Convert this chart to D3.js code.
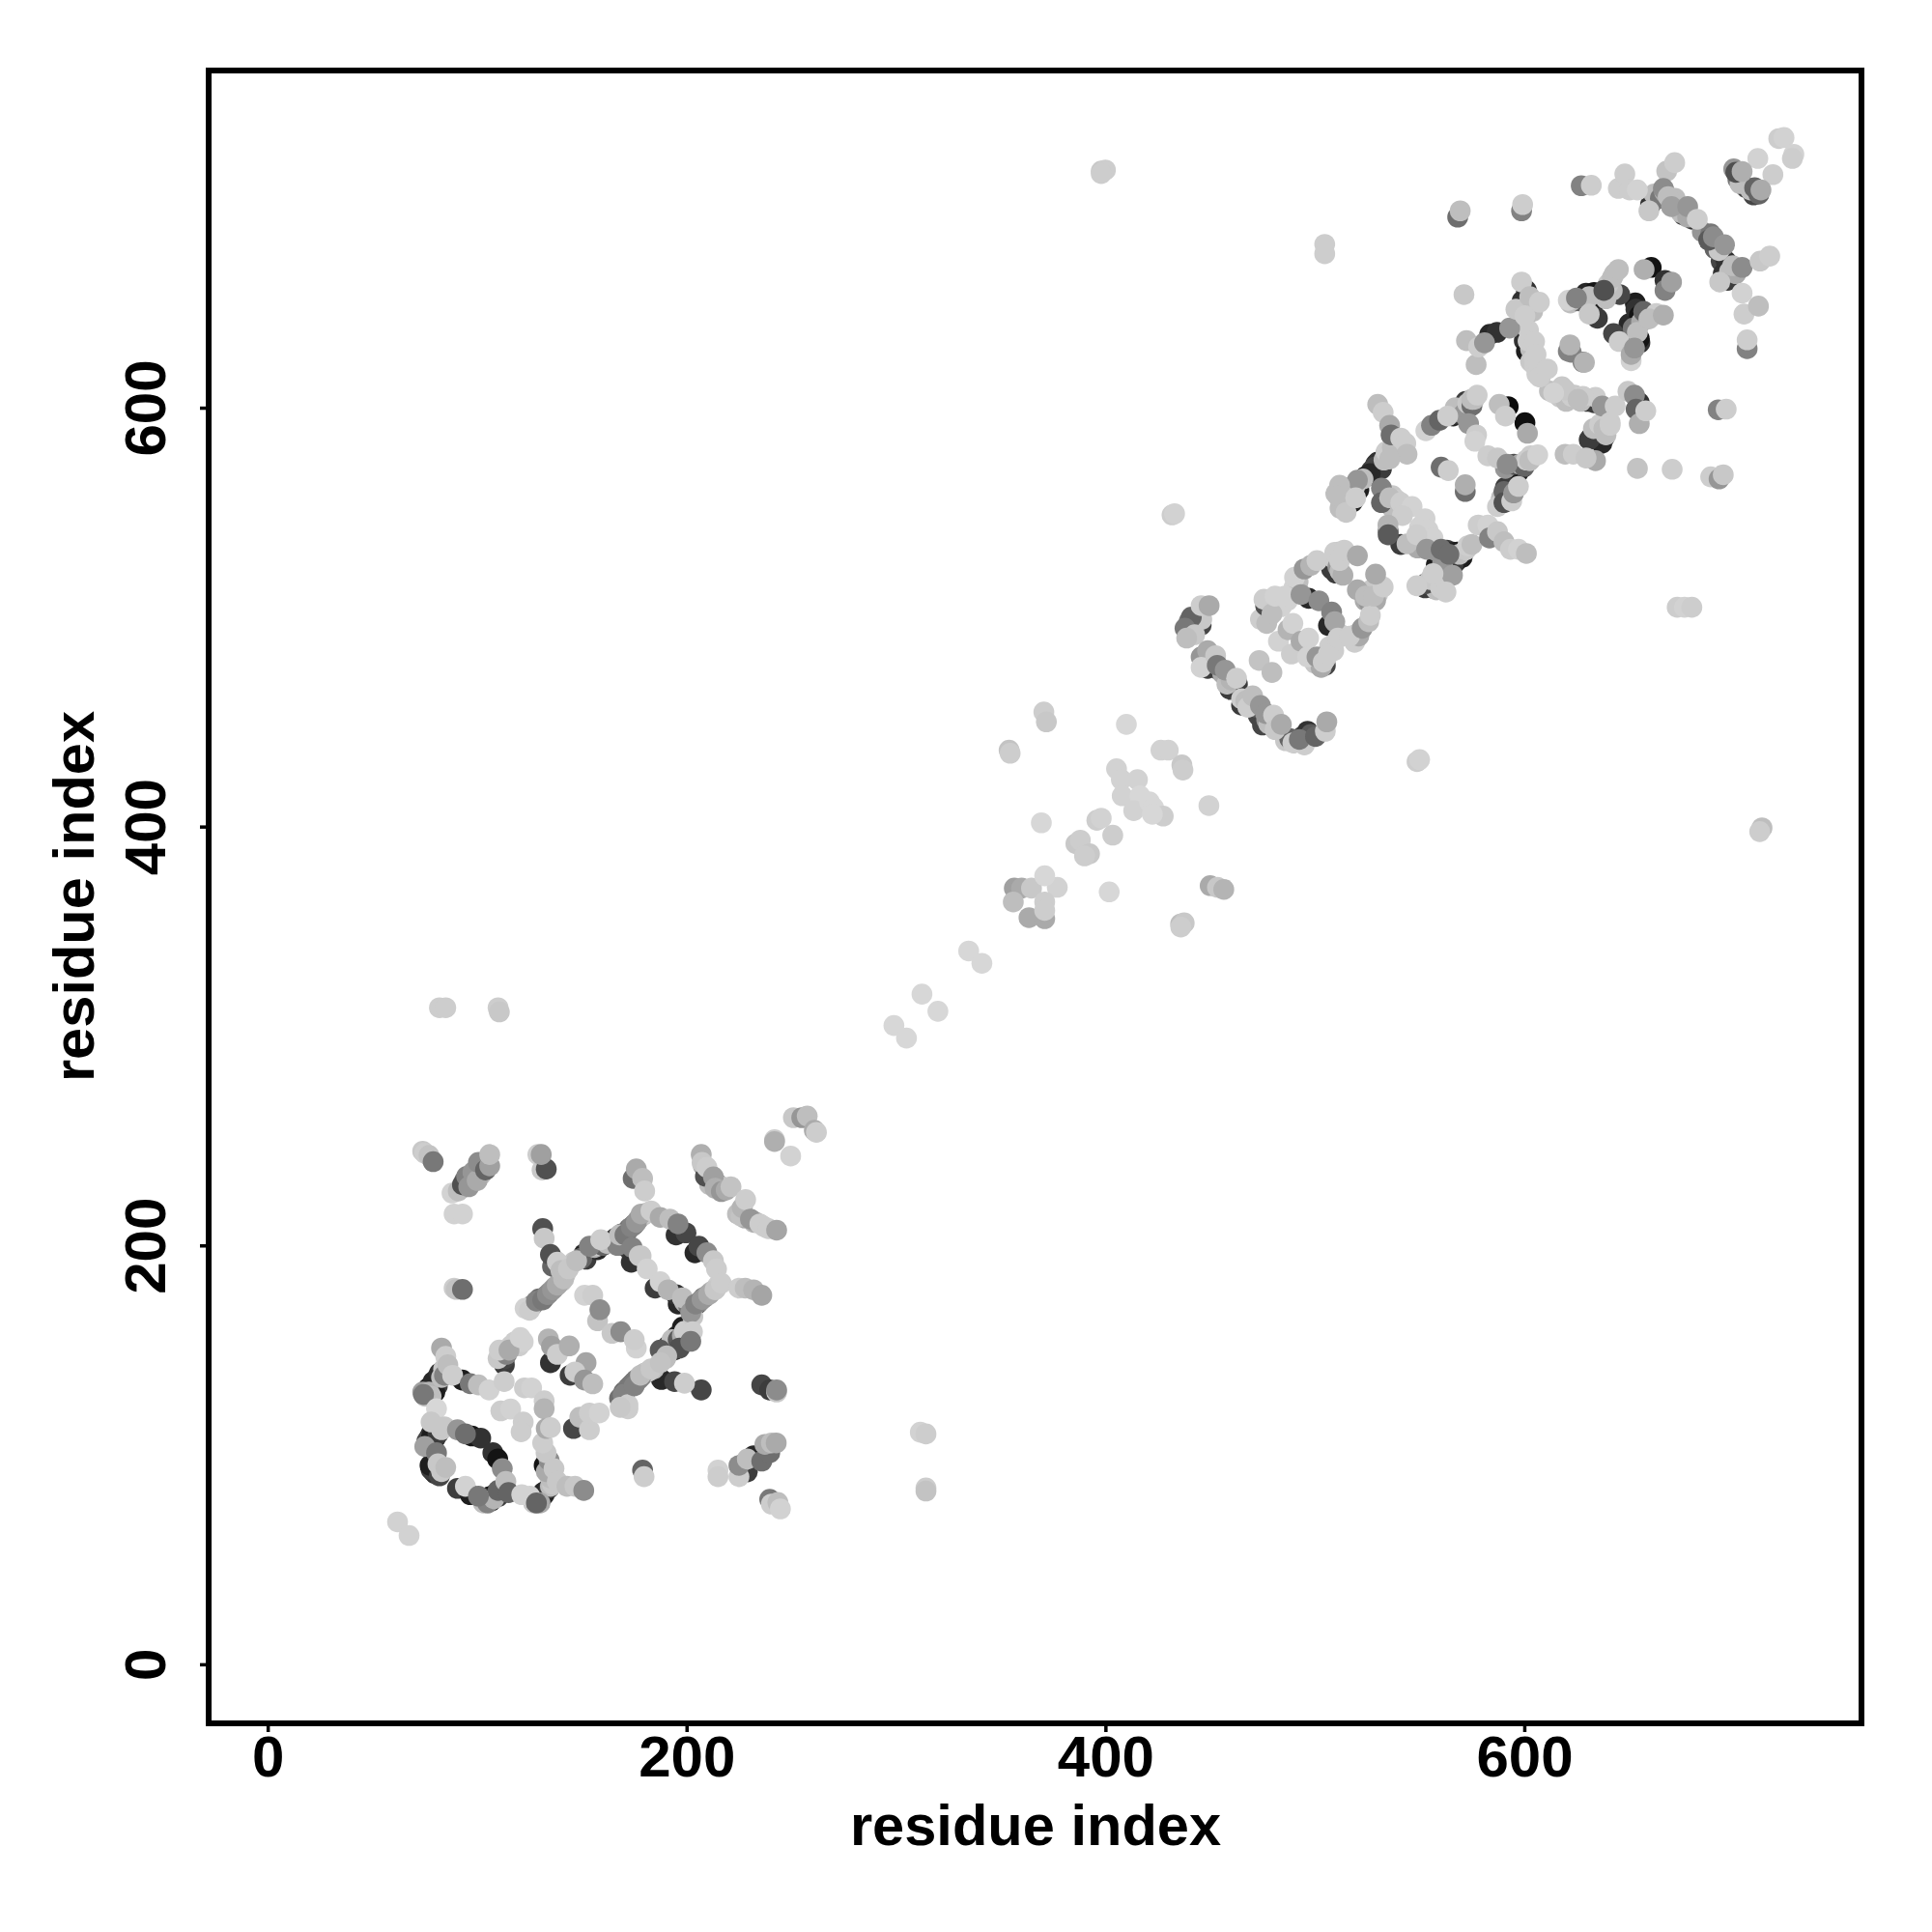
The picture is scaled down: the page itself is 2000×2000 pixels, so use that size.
<!DOCTYPE html>
<html><head><meta charset="utf-8">
<script src="https://cdnjs.cloudflare.com/ajax/libs/d3/7.8.5/d3.min.js"></script>
<style>html,body{margin:0;padding:0;background:#fff}svg{display:block}</style></head>
<body><svg id="c" width="2000" height="2000"></svg>
<script>
const tickValues=[0,200,400,600];
const axisLabel="residue index";
// each contact: [residue i, residue j, grey level]
const strandsLow=[[126,171,130],[127,172,150],[129.5,174.5,110],[132.5,175.5,130],[134.5,177.5,150],[137,180,160],[139.5,182.5,180],[140.5,183,190],[142,186,200],[164,202,40],[168,204,80],[169,205.5,100],[171.5,206.5,130],[172.5,208,110],[174.5,209.5,140],[175,210,60],[177,212.5,160],[179.5,214.5,190],[181,215.5,200],[149,193.5,170],[150,194,100],[151,196,50],[153,197,40],[155,198,60],[156,199,180],[157,200,200],[146,192,200],[203,170,120],[205,172,60],[206,173,140],[208,175,90],[209,175.5,160],[211,177,100],[212,178,180],[214,179.5,190],[215,181,205],[168,127,110],[170,130,100],[171,130.5,110],[173,133,110],[174,134,120],[176,136,130],[177,136,130],[179,138,150],[180,139,170],[182,140,190],[189,148,30],[190,146,190],[191,152,60],[193,155,190],[194,150,50],[196,155,90],[198,157,170],[199,159,205],[74,130,160],[75,128,200],[76,131,50],[78,133,20],[77,130,180],[80,135,30],[81,137,40],[78,128,190],[81,133,60],[83,137,190],[84,141,200],[127,77,200],[129,78,50],[130,78,30],[131,80,20],[132,81,40],[133,83,30],[135,85,190],[136,86,200],[130,77,170],[135,89,190],[133,92,170],[103,77,190],[105,77,130],[106,80,20],[107,79,60],[108,79,180],[110,83,100],[75,104,160],[77,108,30],[77,104,50],[79,106,20],[80,108,40],[78,110,50],[83,112,200],[79,92,40],[80,91,50],[83,92,200],[78,93,60],[137,193,200],[139,190,200],[136,190,100],[140,190,205],[142,187,205],[110,146,200],[112,147,40],[114,148,130],[116,152,205],[118,154,205],[120,152,205],[122,154,210],[113,143,60],[160,200,100],[162,201,190],[167,200,130],[196,172,40],[199,173,180],[201,171,120],[203,166,200],[92,227,150],[94,231,100],[97,233,120],[99,233,80],[101,235,190],[103,238,170],[105,240,60],[102,234,190],[226,217,190],[228,213,170],[232,211,190],[233,211,170],[237,209,205],[208,238,170],[210,234,190],[211,234,100],[211,229,190],[214,230,190],[215,229,100],[217,228,200]];
const strandsHigh=[[440,498,120],[443,497,90],[446,499,200],[440,492,190],[443,494,50],[447,478,100],[450,479,190],[454,475,60],[456,473,170],[458,468,190],[460,470,180],[463,468,60],[465,461,205],[467,460,190],[469,458,60],[472,457,90],[473,453,70],[477,451,150],[478,449,190],[486,441,200],[488,442,100],[490,440,170],[494,443,70],[498,444,90],[495,439,205],[477,507,100],[478,500,205],[481,504,205],[484,505,210],[487,508,210],[490,514,210],[492,517,190],[474,499,205],[477,497,190],[500,478,200],[503,476,170],[505,480,190],[507,486,205],[509,484,205],[502,479,60],[512,492,205],[520,492,200],[519,488,205],[521,491,170],[524,508,170],[526,507,150],[527,513,200],[530,511,205],[529,508,170],[511,531,190],[509,528,205],[511,524,150],[512,522,190],[508,523,60],[559,531,90],[562,530,40],[563,532,60],[565,530,20],[566,531,40],[568,531,30],[569,530,190],[572,532,200],[573,534,205],[564,526,60],[567,526,30],[561,526,150],[558,525,30],[527,570,60],[529,573,60],[530,574,50],[532,573,40],[533,575,190],[534,578,60],[534,579,205],[537,581,190],[524,567,30],[523,566,190],[513,556,60],[516,556,190],[517,560,30],[518,555,40],[516,562,190],[519,562,200],[510,559,190],[512,552,190],[533,559,110],[534,556,80],[537,558,200],[539,556,205],[543,553,205],[537,552,190],[550,543,210],[552,535,190],[551,535,100],[555,534,130],[557,532,150],[553,536,205],[549,533,170],[566,596,40],[567,600,190],[569,597,60],[570,600,20],[571,597,150],[572,603,60],[573,602,200],[575,601,110],[576,604,190],[591,571,150],[593,570,60],[594,571,30],[595,573,80],[597,569,30],[598,573,170],[600,572,100],[601,575,205],[603,577,205],[556,514,60],[558,513,190],[559,518,50],[553,516,80],[555,518,200],[560,514,205],[632,586,40],[633,590,190],[635,586,30],[636,592,205],[638,590,190],[637,583,40],[639,587,190],[591,562,60],[593,557,190],[589,557,190],[600,632,50],[603,628,190],[602,630,30],[602,637,205],[603,622,200],[605,620,205],[606,616,205],[600,647,190],[602,649,205],[604,646,190],[612,608,190],[617,605,200],[620,603,190],[624,606,200],[627,603,190],[631,604,60],[634,605,205],[662,702,190],[665,700,120],[667,703,170],[672,700,190],[675,693,190],[676,692,60],[678,691,170],[685,684,150],[689,683,120],[691,676,100],[693,675,200],[694,670,70],[698,665,190],[701,664,170],[695,664,50],[702,709,120],[703,707,190],[700,714,150],[706,705,70],[708,704,190],[710,705,100],[712,702,100],[650,640,40],[652,638,120],[653,650,30],[656,641,170],[654,636,190],[657,646,100],[663,645,205],[622,650,190],[626,651,100],[628,652,60],[631,653,190],[634,651,30],[636,654,40],[639,652,190],[642,656,190],[640,659,200],[642,662,190],[643,664,190]];
const isolatedLow=[[62,68,210],[67.5,61.5,210],[82,313.5,205],[85,313.5,205],[110,313.5,205],[110.6,311.5,200],[179,92.7,100],[179.7,89.6,205],[215,92.7,210],[215,89.6,205],[239.7,78.8,120],[240.5,76.5,205],[243.6,77.3,190],[244.8,74.2,210],[311.6,110.8,210],[314.3,110,205],[314.3,84.2,205],[314.3,82.7,195],[89,215,210],[93,215,210],[89,179.6,205],[90,179,195],[93,179,110]];
const upperLow=[[74,245,200],[75,244,205],[77,243,195],[79,240,120],[88,225,210],[91,226,190],[93,229,80],[95,233,130],[96,228,150],[98,235,150],[100,231,170],[100.6,239.6,140],[104,236,100],[106,238,160],[106,243.4,190],[129,243.4,205],[131,236,200],[133,236.5,80],[130.6,243.4,160],[174.5,232,110],[176,236.5,170],[179,232,190],[180,226,205],[207,243.4,175],[209,233,80],[207.4,239.6,200],[209.7,237.3,205],[212.8,232.7,160],[213.6,227.3,175],[216.6,225.7,150],[218.9,226.5,170],[221.2,228,195],[224.3,215,190],[226,214,195],[226.6,218,180],[228.2,221.9,205],[230.5,212.6,150],[235,210.3,205],[239,208,205],[243,207.3,165],[242,250.5,205],[242,249.6,175],[249.7,242.7,210],[251,261,200],[255,261,150],[257.6,261.8,190],[261,255,170],[262,254,205]];
const leftLoop=[[83,151,170],[85,147,205],[74.4,128.8,120],[76.7,131.9,30],[79,135,40],[79.8,130,30],[82,139,50],[84.4,138,130],[86,143,190],[88.3,138,205],[92.9,135.7,30],[96.7,134,120],[100.6,133.4,190],[105.7,131,210],[80.6,122,215],[78,115.7,200],[84.4,113.4,200],[90.6,112,150],[94.4,110,110],[97.5,109,20],[101.7,108,50],[76,106.5,70],[78.3,108.8,30],[81.3,110,60],[80.6,101,120],[77.5,95,30],[82,90,70],[81.3,95.7,200],[85,94,190],[90.6,84,60],[94.4,85,210],[96.7,81,30],[100.6,80.3,120],[106.7,78,30],[108.3,81,20],[104,79,60],[110,80,60],[107.5,101,50],[109.8,98,20],[112,93.4,140],[113.7,87.3,190],[115,82,100],[121.3,81,210],[125.2,80.3,210],[128.3,77,100],[129.8,79.6,30],[131.3,81.9,40],[134.4,84.2,60],[132,95,20],[134.4,97.3,140],[132.9,101,200],[131.3,105.7,205],[136.7,93.4,200],[138.3,87.3,200],[142.9,85,190],[146.7,85,200],[150.9,83,140],[112.9,135,205],[122.6,132,205],[126,132,210],[132,125.8,205],[132,122,180],[111.3,121,205],[116,121.9,210],[122,115.7,205],[121,111,205],[133,112.6,170],[135,113,205]];
const diamondEdges=[[112.9,145.7,70],[110.6,150,205],[115.2,150,170],[120.6,156,210],[122.9,170,210],[125,169,205],[128.3,173.4,130],[131.3,174,120],[133.6,176.5,140],[136,178.8,150],[138.3,181,170],[141.3,184,190],[131.3,208,80],[132,203.4,200],[135,195.7,80],[138.3,192,205],[140,188,190],[143.6,188.8,200],[147.5,192.7,190],[150.6,195,30],[152,193.4,60],[153.6,199.6,130],[157.5,198,40],[159,202.7,205],[166,203.4,60],[168,205,190],[170.6,205,120],[173.6,208.8,130],[176,211,150],[178.3,215,170],[183,216.5,205],[187.4,213.4,170],[192,212.6,190],[195,205,50],[195.9,210.3,130],[199.7,206,70],[204,196.5,40],[205.9,199.6,70],[209.7,196.5,140],[212.8,192.7,200],[214.3,188.8,205],[170.5,199.6,50],[173.6,196.5,60],[174,199,130],[173.6,192,50],[177.4,195,200],[178.3,195,200],[181.2,188.8,210],[185,179.6,60],[187.4,182.7,210],[191.2,178.8,180],[195,176.5,50],[198,175,190],[202,168,150],[204.3,172,130],[207.4,174.2,150],[210.5,176.5,170],[213.6,178.8,200],[216.6,182,205],[225,179.6,205],[228,179.6,190],[232,178.8,180],[235.9,176.2,165],[197.4,158,50],[202.8,158.8,205],[192.8,153.4,30],[187.4,150,90],[196.6,151,80],[202,154.2,120],[190.5,147.3,190],[188,136,40],[184.3,141,190],[181.2,139.6,200],[178,137,130],[175,135,120],[172,132,120],[169.7,128.8,130],[172,124,205],[172,122,205],[168.3,122.7,200],[194.3,135,70],[199,134.2,205],[207,131,70],[235.9,133.4,70],[243,130,200],[239.7,131,60],[243,131,140],[146,112.6,70],[149,118,190],[153.6,112,205],[153.6,120,205],[158.3,120,210],[175,133,130],[178,138,190],[183,141,200],[187.5,144,195],[190.6,150,40],[195,156.5,40],[198,161,30]];
const diamondInside=[[151.3,176.2,210],[155.2,176.2,205],[157.5,164,195],[158.6,169.3,140],[164.4,158,200],[168.6,158.8,140],[176,151,210],[175,155,205],[134,155.4,180],[135.5,151.9,160],[135,144,50],[138.3,148,205],[144,152,175],[152,144,165],[144.4,138,60],[146.7,139.6,205],[151.3,135.7,150],[155.2,133.9,190]];
const blocksLow=[[225,89.6,205],[225,95,140],[229,91.9,60],[229,98,190],[232,99.6,40],[235.9,97,110],[239.7,101,110],[237.4,105,170],[240.5,105.7,190],[242.8,105.7,170]];
const midScatter=[[299,305,215],[305,299,215],[312.4,320,215],[320,311.8,215],[334.7,340.6,215],[341,334.7,215],[354,436.5,195],[354.5,435,205],[370.6,454.7,205],[371.8,450,200],[410,448.8,215],[369.4,401.8,215],[385.9,391.8,200],[388,393.5,205],[392.4,387,200],[390,386,205],[395.9,403,205],[398,404,210],[403.5,395.9,205],[405.3,427.6,210],[407.6,422.4,210],[415.3,422.4,210],[408,414.7,210],[416.5,414.7,215],[413.5,407.6,210],[421,411.8,215],[423,409,215],[427.6,405,205],[422.4,405.9,215],[426.5,436.5,210],[430,436.5,210],[436.5,429.4,200],[437,427,205],[449.4,410,210],[431.8,548.8,205],[433,549.4,210],[401.8,368.8,215],[356.5,370.6,160],[360,370.6,170],[364.7,370.6,200],[377,371,210],[371,376.5,215],[356,364,190],[371,364,205],[363.5,356.5,170],[371,356,170],[371,360,205],[435.9,353.5,190],[437.6,354,200],[436,352,205],[450,371.8,170],[453.5,371,200],[456.5,370,180],[548.8,431,205],[550,432,210],[673,504.7,205],[676.5,504.7,210],[680,504.7,205],[713.5,399.4,190],[712.4,397.6,205],[670.6,570.6,205],[398,713,200],[400,713.5,205],[398,711.8,205],[504.7,678,205],[504.7,673.5,205]];
const ringHigh=[[441,500,100],[438,494.7,120],[445.7,505.5,205],[449.5,505.5,170],[445.7,496.2,70],[442.6,491.6,200],[438.8,490,190],[445.7,481,150],[448.8,484,170],[445.7,476,210],[448.8,475.5,60],[452.6,481.6,200],[453.4,477,120],[457.2,474.7,150],[459.5,465.5,60],[462.6,470.8,205],[465,458,60],[468,457,205],[470.3,462.4,190],[474,457.8,150],[475,448.5,70],[476.5,454,150],[480.3,453.2,205],[481,446.3,200],[484,448.8,170],[489.5,440,205],[492.6,441.6,120],[496.5,445.5,50],[500.3,443,100],[505,445.5,205],[505.7,450,170],[473.4,479.3,195],[479.5,473.6,190],[476.5,505.5,80],[475.7,508.5,205],[479.5,501.6,190],[481,510,210],[482.6,488.5,210],[485.7,510,210],[487.2,494,180],[489.5,497,210],[488.8,482.4,205],[490.3,519,210],[493.4,510.8,150],[494.9,523,150],[497,509,40],[498,524.7,180],[501,527,205],[501.9,507.8,140],[493.4,488.5,170],[497,490,210],[496.5,481,210],[501,481,150],[505,477,70],[504,478.5,205],[506.5,496,40],[508,502.4,130],[509.5,497.8,165],[506.5,482.4,205],[511,490,205],[516.5,490.9,205],[522.6,494.7,150],[525.7,497.8,190],[526.5,500.9,205],[520.3,513,170],[524.2,510,190],[528,510,190],[532.6,514.4,205],[529,520.5,170],[510,521,60],[513.4,520,175],[509.5,530.9,205],[511.8,527,205],[514,532,205],[520.3,529.3,170]];
const crossHigh=[[530,601.6,190],[532.6,597.8,205],[535.7,591.6,170],[536.4,587,110],[541,585.5,205],[543.4,583,205],[544,577.8,190],[535.7,575.5,190],[528.7,571.6,70],[531.8,570.8,60],[526.4,568.5,40],[520.3,565.4,150],[521,560.8,30],[511.8,563,190],[514.9,558.5,40],[511,557.8,190],[514.9,550,200],[514.9,554.7,70],[519.5,557,205],[531.8,561.6,130],[531.8,554.7,100],[535.7,557,190],[541,554.7,205],[546.4,552.8,210],[541.8,548.5,205],[535,541,100],[534.9,544,180],[535,539.3,90],[541,534.7,60],[544,535,190],[552.6,547,210],[554,541.6,210],[556.4,537.8,210],[548.7,539.3,205],[553.4,532.4,150],[560.3,532.4,110],[564,530,110],[567.2,528.5,40],[570.3,528.5,30],[566,525,60],[575,534.7,190],[578,544,205],[582.6,544,210],[583.4,537.8,130],[587.2,540.8,200],[590.3,536,190],[593.4,532.4,205],[597.2,532.4,210],[601,530.4,190],[561,520,60],[565.7,520,160],[556.4,520.8,205],[552.6,514,60],[548.7,515,205],[557,516,40],[562.6,512,205],[560.3,571.6,110],[563.7,570,205],[571.8,560,110],[571.8,563.2,175],[553,589,210],[555.7,591.6,130],[559.5,594,100],[563.4,596,205],[568.8,598.5,30],[571.8,601.6,70],[574.9,604,190],[577.5,606,205],[573.4,592.4,150],[577.2,587,205],[576.4,584,210],[588,601.6,190],[591,596,205],[592.3,600.5,10],[600.3,592.8,15],[601.5,587.8,170],[582.6,577,205],[587.2,576,200],[591.8,573,140],[596.4,571.6,30],[599.5,571.6,40],[602.6,574.7,190],[606.4,577.5,210],[587.2,552.8,205],[590.3,560,100],[590.3,554.7,80],[594,555.5,205],[594.9,559.3,150],[597.2,562.4,205]];
const upperHigh=[[568.2,691,110],[569.4,694,190],[571.2,654,200],[572.4,632,190],[577,620.6,190],[578.2,629,205],[581,631,150],[583.5,635,40],[587,636,50],[593,638,150],[596,647,200],[599,651,50],[605.5,650,190],[601.8,631.8,205],[604.7,623.5,205],[607.7,614.7,200],[622.4,626.5,130],[628,621.8,130],[622.4,651,190],[598.7,694,130],[599.2,697,205],[627.2,706,130],[632,706.2,205],[644.9,704.7,205],[648,711.6,205],[650.3,704,205],[654,704,210],[668,713,195],[671.8,717,205],[666.4,704.7,140],[659.5,694,200],[660.3,697,50],[668.7,700.8,190],[670.3,696,160],[674,696,60],[678,696,150],[680.3,690,50],[682.6,690,205],[688,680,90],[690.3,681.6,140],[695.6,677.8,150],[693.3,660,200],[697.2,660.8,60],[696.4,670,50],[699.5,667.8,190],[704,667,140],[712.6,670,200],[717.2,672.4,205],[704,654.7,210],[704.9,644.7,205],[711.8,648.5,190],[706.4,628.2,130],[706.4,632.4,205],[721.5,728.5,205],[724,729,210],[728.7,721,210],[728,719,205],[711.5,719,210],[718.7,711.3,205],[701,712.4,80],[704,712.8,175],[709.5,701.6,70],[713,704,170],[657.2,666,175],[660.6,667,20],[644.9,666,190],[667.2,656,130],[667.2,660.8,50],[670.3,660,160],[621,651.3,210],[624.9,652.4,130],[629.5,654.7,40],[633.3,655,20],[638,656,80],[641,654.7,30],[645.6,654,70],[631,644.7,200],[634.9,642.7,60],[642.6,635.4,70],[645.3,631.6,205],[653.3,647,50],[654.9,643.9,20],[659.5,642.4,190],[666.4,644.2,175],[651,622.4,210],[651,625.4,170],[652.6,628.5,150],[655.2,631,50],[654.9,633,20],[621,627,130],[621.8,630,180],[628.7,621.6,180],[598.7,660,205],[601,656,50],[602.6,653,190],[607.2,650.4,205],[600.3,643.9,205],[601.8,634.7,40],[604.9,631.6,205],[601,627,30],[605.6,625.4,205],[607.2,614.7,205],[611,618.5,205],[615,607,190],[618,610,200],[622.6,605.4,205],[628,605.4,205],[619.5,608.5,200],[614,607,210],[625.7,604,190],[630,603,60],[633.3,602.4,60],[637.2,600.8,150],[643.4,600.8,205],[634.9,588.5,30],[636.4,588.5,30],[638,585.5,40],[631,584.7,60],[641,593,205],[641,591.6,205],[634,574.7,170],[619.5,577.8,190],[623.4,577.8,205],[629.5,576,200],[654,571,195],[649.5,607.8,200],[652.6,606,140],[653.4,599.3,100],[654.9,602.4,50],[654.9,592.4,175],[658,598.5,205],[692.6,599,130],[696.4,599.3,205],[689,567,205],[693,566,150],[695,568,200]];
const contactGroups=[strandsLow,strandsHigh,isolatedLow,upperLow,leftLoop,diamondEdges,diamondInside,blocksLow,midScatter,ringHigh,crossHigh,upperHigh];

const svg=d3.select("#c");
const domain=[-28.2,761];
const x=d3.scaleLinear().domain(domain).range([216,1927]);
const y=d3.scaleLinear().domain(domain).range([1784,73]);
const font="'Liberation Sans',Arial,sans-serif";

// the darkest contacts sit underneath, so that they show mostly as rims
const contacts=contactGroups.flat();
const drawOrder=[...contacts.filter(d=>d[2]<=70),...contacts.filter(d=>d[2]>70)];
svg.append("g").selectAll("circle").data(drawOrder).join("circle")
 .attr("cx",d=>x(d[0])).attr("cy",d=>y(d[1])).attr("r",10.8)
 .attr("fill",d=>d3.rgb(d[2],d[2],d[2]));

svg.append("rect").attr("x",216).attr("y",73).attr("width",1711).attr("height",1711)
 .attr("fill","none").attr("stroke","#000").attr("stroke-width",6);

const xa=svg.append("g").attr("transform","translate(0,1784)")
 .call(d3.axisBottom(x).tickValues(tickValues).tickSize(9).tickPadding(10).tickFormat(d3.format("d")));
const ya=svg.append("g").attr("transform","translate(216,0)")
 .call(d3.axisLeft(y).tickValues(tickValues).tickSize(9).tickFormat(d3.format("d")));
[xa,ya].forEach(a=>{a.select(".domain").remove();a.selectAll("line").attr("stroke","#000").attr("stroke-width",3.5);});
xa.selectAll("text").attr("y",null).attr("dy",null).attr("y",55)
 .attr("font-family",font).attr("font-weight","bold").attr("font-size",60).attr("fill","#000");
ya.selectAll("text").attr("x",null).attr("dy",null)
 .attr("transform","translate(-45,0) rotate(-90)").attr("x",0).attr("y",0)
 .attr("text-anchor","middle").attr("font-family",font).attr("font-weight","bold").attr("font-size",60).attr("fill","#000");

svg.append("text").attr("x",1072).attr("y",1910).attr("text-anchor","middle")
 .attr("font-family",font).attr("font-weight","bold").attr("font-size",59.6).text(axisLabel);
svg.append("text").attr("transform","translate(97,928) rotate(-90)").attr("text-anchor","middle")
 .attr("font-family",font).attr("font-weight","bold").attr("font-size",59.6).text(axisLabel);
</script></body></html>
